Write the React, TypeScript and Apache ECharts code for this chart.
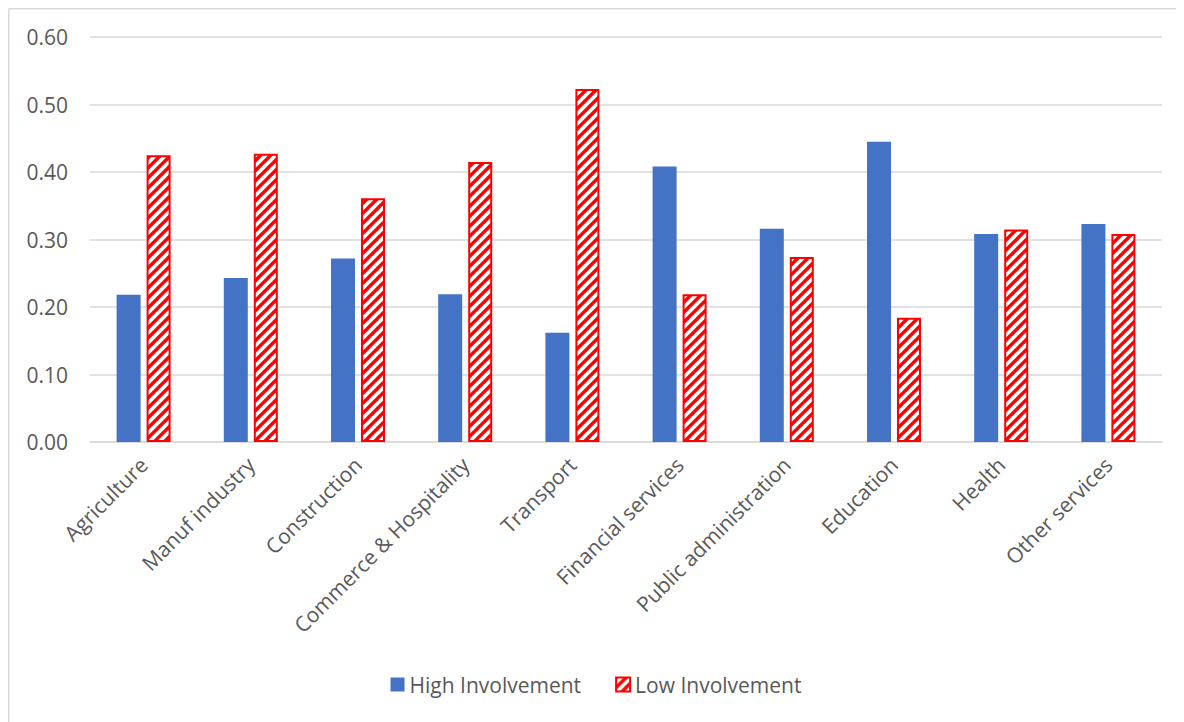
import React, { useEffect, useRef } from "react";
import * as echarts from "echarts";

const categories = [
  "Agriculture",
  "Manuf industry",
  "Construction",
  "Commerce & Hospitality",
  "Transport",
  "Financial services",
  "Public administration",
  "Education",
  "Health",
  "Other services",
];

const highInvolvement = [0.218, 0.243, 0.272, 0.219, 0.162, 0.408, 0.316, 0.445, 0.308, 0.323];
const lowInvolvement = [0.425, 0.427, 0.361, 0.415, 0.523, 0.219, 0.274, 0.184, 0.315, 0.308];

const seriesNames = ["High Involvement", "Low Involvement"];

const FONT = "'Open Sans', 'Noto Sans', sans-serif";
const TEXT = "#595959";
const GRID = "#d9d9d9";
const BLUE = "#4472c4";
const RED = "#ff0000";

// Red "/" hatch tile used for the low-involvement bars
function makeHatch(): HTMLCanvasElement {
  const size = 10;
  const c = document.createElement("canvas");
  c.width = size;
  c.height = size;
  const ctx = c.getContext("2d")!;
  ctx.fillStyle = "#ffffff";
  ctx.fillRect(0, 0, size, size);
  ctx.strokeStyle = RED;
  ctx.lineWidth = 3.4;
  ctx.lineCap = "square";
  for (let k = -1; k <= 1; k++) {
    ctx.beginPath();
    ctx.moveTo(k * size - 1, size + 1);
    ctx.lineTo(k * size + size + 1, -1);
    ctx.stroke();
  }
  return c;
}

export default function App() {
  const ref = useRef<HTMLDivElement>(null);

  useEffect(() => {
    if (!ref.current) return;
    const chart = echarts.init(ref.current, undefined, { renderer: "svg" });
    const hatch = makeHatch();
    const hatchFill = { image: hatch, repeat: "repeat" } as any;

    chart.setOption({
      animation: false,
      backgroundColor: "#ffffff",
      textStyle: { fontFamily: FONT },
      graphic: [
        {
          type: "line",
          shape: { x1: 0.75, y1: 0.75, x2: 1200, y2: 0.75 },
          style: { stroke: GRID, lineWidth: 1.5 },
          silent: true,
        },
        {
          type: "line",
          shape: { x1: 0.75, y1: 0.75, x2: 0.75, y2: 800 },
          style: { stroke: GRID, lineWidth: 1.5 },
          silent: true,
        },
      ],
      grid: { left: 82, right: 22, top: 29, bottom: 280, containLabel: false },
      legend: {
        bottom: 22,
        left: "center",
        itemWidth: 14,
        itemHeight: 14,
        itemGap: 34,
        icon: "rect",
        textStyle: { color: TEXT, fontSize: 21, fontFamily: FONT, padding: [0, 0, 0, 0] },
        data: seriesNames,
      },
      xAxis: {
        type: "category",
        data: categories,
        axisLine: { lineStyle: { color: GRID, width: 1.5 } },
        axisTick: { show: false },
        axisLabel: {
          rotate: 45,
          interval: 0,
          margin: 19,
          color: TEXT,
          fontSize: 21,
          fontFamily: FONT,
        },
      },
      yAxis: {
        type: "value",
        min: 0,
        max: 0.6,
        interval: 0.1,
        axisLine: { show: false },
        axisTick: { show: false },
        splitLine: { lineStyle: { color: GRID, width: 1.5 } },
        axisLabel: {
          margin: 22,
          color: TEXT,
          fontSize: 21,
          fontFamily: FONT,
          formatter: (v: number) => v.toFixed(2),
        },
      },
      series: [
        {
          name: seriesNames[0],
          type: "bar",
          data: highInvolvement,
          barWidth: 24,
          barGap: "25%",
          itemStyle: { color: BLUE },
        },
        {
          name: seriesNames[1],
          type: "bar",
          data: lowInvolvement,
          barWidth: 24,
          barGap: "25%",
          itemStyle: { color: hatchFill, borderColor: RED, borderWidth: 2 },
        },
      ],
    });

    return () => chart.dispose();
  }, []);

  return <div ref={ref} style={{ width: 1176, height: 714 }} />;
}
